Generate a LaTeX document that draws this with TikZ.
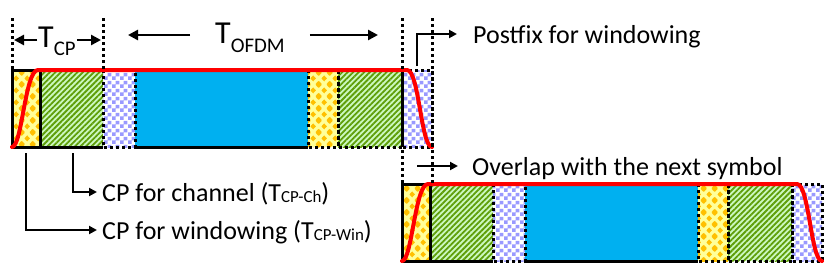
\documentclass[tikz,border=0pt]{standalone}
\usepackage{fontspec}
\setmainfont{Carlito}
\usetikzlibrary{arrows.meta,patterns,patterns.meta}

\definecolor{winyellow}{HTML}{FFFF99}
\definecolor{wingold}{HTML}{FFC000}
\definecolor{chgreen}{HTML}{CCF8C0}
\definecolor{chstripe}{HTML}{5E9E08}
\definecolor{pflav}{HTML}{9999FF}
\definecolor{datblue}{HTML}{00B0F0}

\newcommand\dmd[2]{\pgfpathmoveto{\pgfpoint{#1pt-2.9pt}{#2pt}}%
  \pgfpathlineto{\pgfpoint{#1pt}{#2pt+3.1pt}}%
  \pgfpathlineto{\pgfpoint{#1pt+2.9pt}{#2pt}}%
  \pgfpathlineto{\pgfpoint{#1pt}{#2pt-3.1pt}}\pgfpathclose}
\pgfdeclarepatternformonly{diamonds}{\pgfpointorigin}{\pgfqpoint{11pt}{11.6pt}}{\pgfqpoint{11pt}{11.6pt}}{%
  \dmd{0}{0}\dmd{11}{0}\dmd{0}{11.6}\dmd{11}{11.6}\dmd{5.5}{5.8}\pgfusepath{fill}}
\pgfdeclarepatternformonly{checks}{\pgfpointorigin}{\pgfqpoint{8pt}{8pt}}{\pgfqpoint{8pt}{8pt}}{%
  \pgfpathrectangle{\pgfpointorigin}{\pgfqpoint{4pt}{4pt}}%
  \pgfpathrectangle{\pgfqpoint{4pt}{4pt}}{\pgfqpoint{4pt}{4pt}}\pgfusepath{fill}}

\newcommand\lowtext[2][0.05em]{\raisebox{-#1}{\scalebox{0.65}{#2}}}

\begin{document}
\begin{tikzpicture}[x=1pt,y=-1pt,>={Triangle[length=8pt,width=8pt]},
  winbox/.style={fill=winyellow,postaction={pattern=diamonds,pattern color=wingold}},
  chbox/.style={fill=chgreen,postaction={pattern={Lines[angle=45,distance=3.9pt,line width=1.8pt]},pattern color=chstripe}},
  pfbox/.style={fill=white,postaction={pattern=checks,pattern color=pflav}},
  datbox/.style={fill=datblue},
  edgeline/.style={line width=3pt},
  dotline/.style={line width=3pt,dash pattern=on 3pt off 3pt},
  window/.style={red,line width=4pt,line cap=round,line join=round},
  note/.style={line width=2pt,->},
  tlen/.style={line width=2.5pt,-{Triangle[length=10pt,width=10pt]}},
  lbl/.style={font=\fontsize{26}{30}\selectfont,anchor=west,inner sep=0pt,text height=18pt,text depth=0pt},
  tlbl/.style={font=\fontsize{32}{36}\selectfont,anchor=base west}]
\useasboundingbox (0,0) rectangle (830,271);
\foreach \dx/\dy in {0/0,390/114}{
\begin{scope}[shift={(\dx,\dy)}]
  \path[winbox] (12,70) rectangle (40,147);
  \path[chbox] (40,70) rectangle (103,147);
  \path[pfbox] (103,70) rectangle (135,147);
  \path[datbox] (135,70) rectangle (308,147);
  \path[winbox] (308,70) rectangle (338,147);
  \path[chbox] (338,70) rectangle (402,147);
  \path[pfbox] (402,70) rectangle (432,147);
  \draw[edgeline] (103,70) -- (12,70) -- (12,147) -- (103,147) (40,70) -- (40,147)
    (135,70) -- (308,70) (135,147) -- (308,147);
  \draw[dotline] (103,70) rectangle (135,147) (308,70) rectangle (338,147)
    (338,70) rectangle (402,147) (402,70) rectangle (432,147);
  \draw[window] (12,147) .. controls (22,147) and (25,70) .. (38,70) -- (407,70)
    .. controls (419,70) and (421,147) .. (432,147);
\end{scope}}
\draw[dotline] (12,18) -- (12,70) (103,18) -- (103,70) (402,18) -- (402,184) (432,18) -- (432,184);

\node[tlbl,inner xsep=1pt] (Tcp) at (37,47) {T\lowtext[0.28em]{CP}};
\coordinate (cpL) at (14,40);
\coordinate (cpR) at (101,40);
\draw[tlen] (Tcp.west|-cpL) -- (cpL);
\draw[tlen] (Tcp.east|-cpR) -- (cpR);
\node[tlbl,inner xsep=25pt] (Tofdm) at (190,43) {T\lowtext[0.3em]{OFDM}};
\coordinate (ofL) at (128,35);
\coordinate (ofR) at (378,35);
\draw[tlen] (Tofdm.west|-ofL) -- (ofL);
\draw[tlen] (Tofdm.east|-ofR) -- (ofR);

\node[lbl] (Postfix) at (473,34) {Postfix for windowing};
\coordinate (pfFoot) at (417,66);
\draw[note] (pfFoot) |- ([xshift=-16pt]Postfix.west);
\node[lbl] (Overlap) at (472,166) {Overlap with the next symbol};
\coordinate (olFoot) at (417,166);
\draw[note] (olFoot) -- ([xshift=-14pt]Overlap.west);
\node[lbl] (CPch) at (102,192) {CP for channel (T\lowtext{CP-Ch})};
\coordinate (chFoot) at (73,153);
\draw[note] (chFoot) |- ([xshift=-5pt]CPch.west);
\node[lbl] (CPwin) at (102,230) {CP for windowing (T\lowtext{CP-Win})};
\coordinate (winFoot) at (26,153);
\draw[note] (winFoot) |- ([xshift=-5pt]CPwin.west);
\end{tikzpicture}
\end{document}
